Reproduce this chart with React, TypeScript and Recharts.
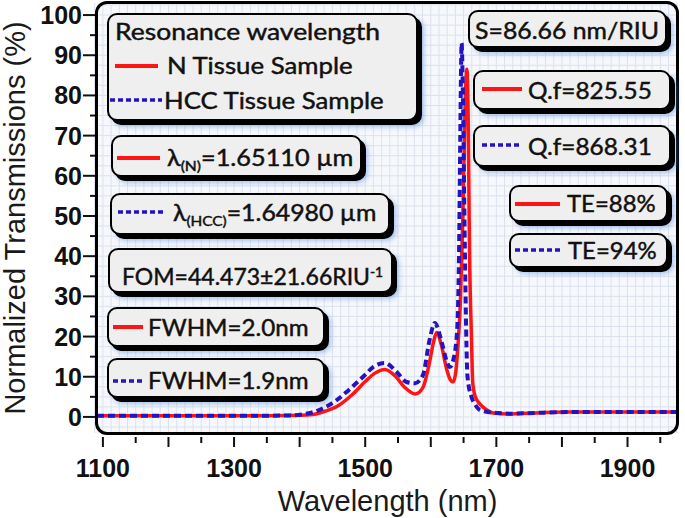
import React from "react";
import { LineChart, Line, XAxis, YAxis, CartesianGrid } from "recharts";

// N tissue sample (red, solid)
const nWavelength = [1091, 1150, 1200, 1250, 1300, 1350, 1400, 1420, 1435, 1460, 1480, 1500, 1515, 1530, 1545, 1560, 1576, 1588, 1598, 1604, 1609, 1616, 1624, 1630, 1634, 1638, 1641, 1645, 1649, 1652, 1655, 1657, 1659, 1662, 1664, 1668, 1675, 1685, 1695, 1720, 1760, 1807, 1850, 1900, 1977];
const nTransmission = [0.3, 0.3, 0.3, 0.3, 0.3, 0.3, 0.4, 0.6, 1.2, 2.9, 5.5, 8.8, 10.9, 11.8, 10.3, 7.4, 5.7, 7.3, 13.5, 18.5, 21, 18, 12, 9.2, 8.7, 11, 16.7, 28, 50, 75, 86.5, 75, 42, 20, 8.5, 5, 3.2, 1.8, 1.0, 0.75, 1.0, 1.2, 1.25, 1.2, 1.2];

// HCC tissue sample (blue, dashed)
const hccWavelength = [1091, 1150, 1200, 1250, 1300, 1350, 1390, 1410, 1425, 1440, 1455, 1470, 1487, 1500, 1512, 1530, 1548, 1563, 1576, 1588, 1598, 1606, 1617, 1624, 1629, 1634, 1640, 1643, 1645, 1647, 1649, 1652, 1656, 1662, 1668, 1675, 1688, 1700, 1720, 1760, 1807, 1850, 1900, 1977];
const hccTransmission = [0.3, 0.3, 0.3, 0.3, 0.3, 0.3, 0.4, 0.8, 1.4, 2.5, 4.0, 6.0, 8.5, 10.5, 12.4, 13.4, 11.2, 8.7, 8.4, 10.4, 19, 23.4, 18.4, 14, 12.4, 14, 21, 40, 70, 93, 80, 41.5, 10, 5, 3, 1.7, 1.2, 1.0, 0.8, 1.0, 1.2, 1.25, 1.2, 1.2];

const xTicks = [1100, 1150, 1200, 1250, 1300, 1350, 1400, 1450, 1500, 1550, 1600, 1650, 1700, 1750, 1800, 1850, 1900, 1950];
const xLabels = [1100, 1300, 1500, 1700, 1900];
const yTicks = [0, 5, 10, 15, 20, 25, 30, 35, 40, 45, 50, 55, 60, 65, 70, 75, 80, 85, 90, 95, 100];
const yLabels = [0, 10, 20, 30, 40, 50, 60, 70, 80, 90, 100];

const nData = nWavelength.map((w, i) => ({ w, t: nTransmission[i] }));
const hccData = hccWavelength.map((w, i) => ({ w, t: hccTransmission[i] }));

const W = 685;
const H = 518;
const PL = 97;
const PT = 3;
const PR = 678;
const PB = 433;
const X_DOMAIN: [number, number] = [1091, 1977];
const Y_DOMAIN: [number, number] = [-4, 103];

const RED = "#ff1414";
const BLUE = "#2414c0";
const AXIS_FONT = "'Liberation Sans', Arial, sans-serif";
const BOX_FONT = "Lato, 'Noto Sans', sans-serif";

// fine grid, in pixels
const vGrid: number[] = [];
for (let v = 1087.5; v <= 1977; v += 12.5) {
  vGrid.push(PL + ((v - X_DOMAIN[0]) / (X_DOMAIN[1] - X_DOMAIN[0])) * (PR - PL));
}
const hGrid: number[] = [];
for (let v = -2.5; v <= 103; v += 2.5) {
  hGrid.push(PB - ((v - Y_DOMAIN[0]) / (Y_DOMAIN[1] - Y_DOMAIN[0])) * (PB - PT));
}

const XTick = (props: any) => {
  const { x, y, payload } = props;
  const v = payload.value;
  const major = v % 100 === 0;
  return (
    <g>
      <line x1={x} x2={x} y1={y + 4} y2={y + (major ? 14 : 10)} stroke="#111" strokeWidth={2} />
      {xLabels.includes(v) && (
        <text x={x} y={y + 44} textAnchor="middle" fontFamily={AXIS_FONT} fontWeight="bold" fontSize={25} fill="#111">
          {v}
        </text>
      )}
    </g>
  );
};

const YTick = (props: any) => {
  const { x, y, payload } = props;
  const v = payload.value;
  const major = v % 10 === 0;
  return (
    <g>
      <line x1={x - (major ? 14 : 7)} x2={x} y1={y} y2={y} stroke="#111" strokeWidth={2} />
      {yLabels.includes(v) && (
        <text x={x - 15} y={y + 9} textAnchor="end" fontFamily={AXIS_FONT} fontWeight="bold" fontSize={25} fill="#111">
          {v}
        </text>
      )}
    </g>
  );
};

const Sample = ({ kind, x1, x2, y }: { kind: "red" | "blue"; x1: number; x2: number; y: number }) => (
  <svg style={{ position: "absolute", left: x1, top: y - 4, overflow: "visible" }} width={x2 - x1} height={8}>
    <line
      x1={0}
      x2={x2 - x1}
      y1={4}
      y2={4}
      stroke={kind === "red" ? RED : BLUE}
      strokeWidth={kind === "red" ? 4 : 3.5}
      strokeDasharray={kind === "red" ? undefined : "5 3"}
    />
  </svg>
);

const Box = ({ x, y, w, h }: { x: number; y: number; w: number; h: number }) => (
  <div
    style={{
      position: "absolute",
      left: x,
      top: y,
      width: w,
      height: h,
      boxSizing: "border-box",
      background: "#efefef",
      border: "2px solid #000",
      borderRadius: 10,
      boxShadow: "4px 4px 0 #000, 6px 6px 5px rgba(70,130,220,0.45)",
    }}
  />
);

// the reference text is a wide sans; Lato stretched a little comes close
const Txt = ({ x, y, sx = 1.12, children }: { x: number; y: number; sx?: number; children: React.ReactNode }) => (
  <div
    style={{
      position: "absolute",
      left: x,
      top: y - 15,
      height: 30,
      lineHeight: "30px",
      whiteSpace: "nowrap",
      fontFamily: BOX_FONT,
      fontSize: 23,
      color: "#111",
      WebkitTextStroke: "0.45px #111",
      transform: `scaleX(${sx})`,
      transformOrigin: "0 50%",
    }}
  >
    {children}
  </div>
);

const sub = { fontSize: "0.62em", verticalAlign: "-0.35em" } as React.CSSProperties;
const sup = { fontSize: "0.6em", verticalAlign: "0.6em" } as React.CSSProperties;

export default function App() {
  return (
    <div style={{ position: "absolute", left: 0, top: 0, width: W, height: H, background: "#fff" }}>
      <LineChart width={W} height={H} margin={{ top: PT, right: W - PR, bottom: 0, left: 0 }}>
        <CartesianGrid
          fill="#f6f8fc"
          stroke="#dce2ed"
          strokeWidth={1}
          horizontalPoints={hGrid}
          verticalPoints={vGrid}
        />
        <XAxis
          dataKey="w"
          type="number"
          domain={X_DOMAIN}
          allowDataOverflow
          ticks={xTicks}
          interval={0}
          tick={<XTick />}
          tickLine={false}
          axisLine={false}
          tickSize={0}
          tickMargin={0}
          height={H - PB}
          label={{
            value: "Wavelength (nm)",
            position: "insideBottom",
            offset: 7,
            style: { fontFamily: AXIS_FONT, fontSize: 29, fill: "#1a1a1a" },
          }}
        />
        <YAxis
          dataKey="t"
          type="number"
          domain={Y_DOMAIN}
          allowDataOverflow
          ticks={yTicks}
          interval={0}
          tick={<YTick />}
          tickLine={false}
          axisLine={false}
          tickSize={0}
          tickMargin={0}
          width={PL}
          label={{
            value: "Normalized Transmissions (%)",
            angle: -90,
            position: "insideLeft",
            offset: 15,
            style: { fontFamily: AXIS_FONT, fontSize: 29, fill: "#1a1a1a", textAnchor: "middle" },
          }}
        />
        <Line data={nData} dataKey="t" type="monotone" stroke={RED} strokeWidth={3.5} dot={false} isAnimationActive={false} />
        <Line
          data={hccData}
          dataKey="t"
          type="monotone"
          stroke={BLUE}
          strokeWidth={4}
          strokeDasharray="7 4"
          dot={false}
          isAnimationActive={false}
        />
      </LineChart>

      {/* plot frame */}
      <div
        style={{
          position: "absolute",
          left: PL - 2,
          top: PT - 2,
          width: PR - PL + 3,
          height: PB - PT + 4,
          boxSizing: "border-box",
          border: "3px solid #000",
          borderRadius: 12,
          pointerEvents: "none",
        }}
      />

      {/* legend / annotation boxes */}
      <Box x={107} y={13} w={311} h={108} />
      <Txt x={115} y={31} sx={1.15}>Resonance wavelength</Txt>
      <Sample kind="red" x1={115} x2={158} y={66} />
      <Txt x={167} y={65}>N Tissue Sample</Txt>
      <Sample kind="blue" x1={110} x2={162} y={100} />
      <Txt x={164} y={100}>HCC Tissue Sample</Txt>

      <Box x={111} y={135} w={251} h={42} />
      <Sample kind="red" x1={117} x2={160} y={158} />
      <Txt x={167} y={157} sx={1.1}>
        λ<span style={sub}>(N)</span>=1.65110 µm
      </Txt>

      <Box x={110} y={193} w={280} h={42} />
      <Sample kind="blue" x1={118} x2={163} y={212} />
      <Txt x={173} y={212} sx={1.08}>
        λ<span style={sub}>(HCC)</span>=1.64980 µm
      </Txt>

      <Box x={108} y={248} w={285} h={45} />
      <Txt x={122} y={272} sx={1.0}>
        FOM=44.473±21.66RIU<span style={sup}>-1</span>
      </Txt>

      <Box x={107} y={307} w={218} h={40} />
      <Sample kind="red" x1={113} x2={143} y={327} />
      <Txt x={148} y={327} sx={1.05}>FWHM=2.0nm</Txt>

      <Box x={107} y={358} w={218} h={40} />
      <Sample kind="blue" x1={113} x2={143} y={381} />
      <Txt x={148} y={380} sx={1.05}>FWHM=1.9nm</Txt>

      <Box x={468} y={10} w={199} h={38} />
      <Txt x={475} y={30} sx={1.08}>S=86.66 nm/RIU</Txt>

      <Box x={473} y={70} w={198} h={40} />
      <Sample kind="red" x1={482} x2={522} y={89} />
      <Txt x={528} y={90} sx={1.06}>Q.f=825.55</Txt>

      <Box x={473} y={125} w={198} h={42} />
      <Sample kind="blue" x1={482} x2={522} y={145} />
      <Txt x={528} y={146} sx={1.06}>Q.f=868.31</Txt>

      <Box x={509} y={185} w={159} h={37} />
      <Sample kind="red" x1={515} x2={560} y={204} />
      <Txt x={567} y={203} sx={1.04}>TE=88%</Txt>

      <Box x={509} y={233} w={159} h={35} />
      <Sample kind="blue" x1={515} x2={563} y={250} />
      <Txt x={568} y={250} sx={1.04}>TE=94%</Txt>
    </div>
  );
}
